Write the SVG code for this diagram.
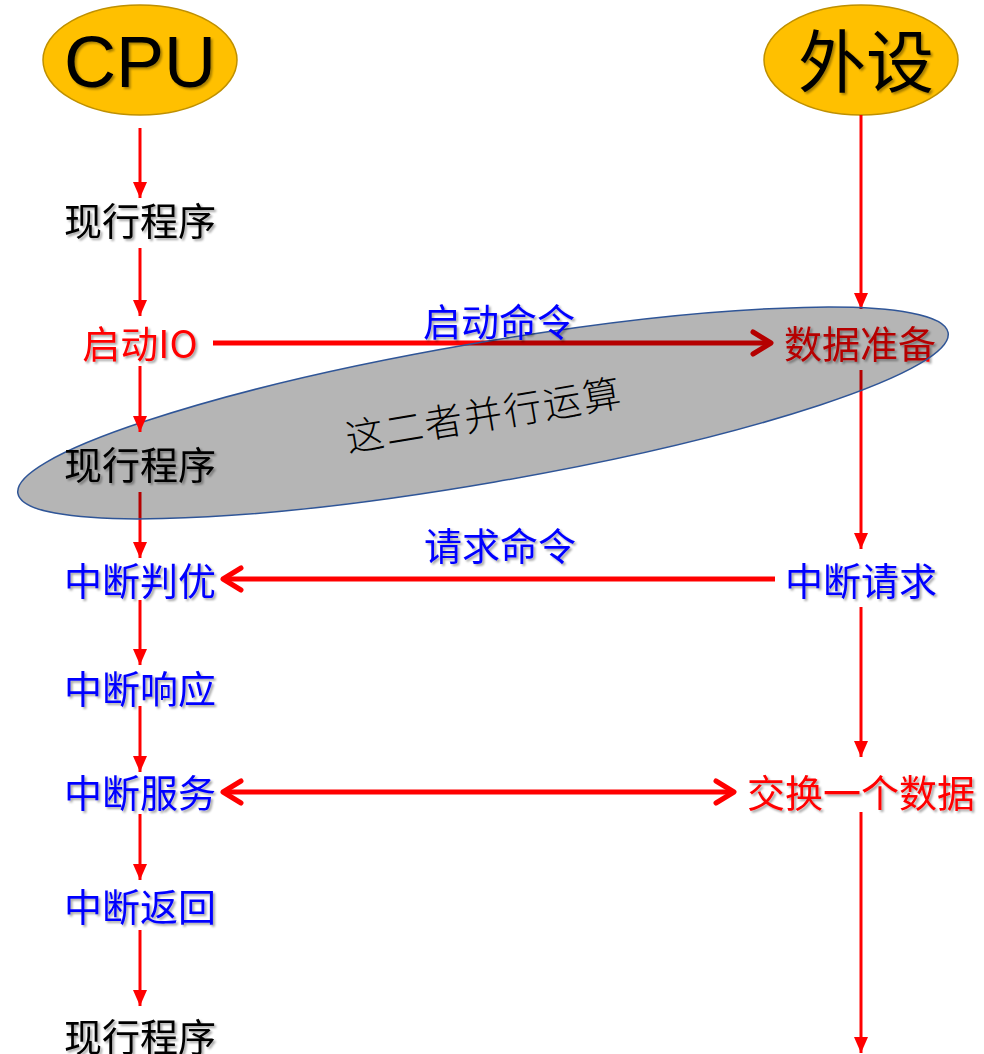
<svg xmlns="http://www.w3.org/2000/svg" width="984" height="1054" viewBox="0 0 984 1054">
<style>
.t{font-family:"Noto Sans CJK SC","Liberation Sans",sans-serif;font-size:38px;text-anchor:middle;filter:url(#sh)}
.blk{fill:#000}
.red{fill:#FF0000}
.blu{fill:#0000FF}
.head{fill:#FFC000;stroke:#BF9000;stroke-width:1.5}
.v{stroke:#FF0000;stroke-width:3;fill:none;marker-end:url(#tri)}
.h{stroke:#FF0000;stroke-width:5;fill:none}
</style>
<defs>
<filter id="sh" x="-10%" y="-20%" width="130%" height="150%">
<feDropShadow dx="2" dy="2" stdDeviation="1.2" flood-color="#000" flood-opacity="0.35"/>
</filter>
<marker id="tri" markerUnits="userSpaceOnUse" markerWidth="16" markerHeight="14" viewBox="0 0 16 14" refX="16" refY="7" orient="auto">
<path d="M0,0 L16,7 L0,14 z" fill="#FF0000"/>
</marker>
<marker id="chev" markerUnits="userSpaceOnUse" markerWidth="24" markerHeight="28" viewBox="0 0 24 28" refX="21" refY="14" orient="auto-start-reverse">
<path d="M3,3 L21,14 L3,25" fill="none" stroke="#FF0000" stroke-width="5" stroke-linecap="round" stroke-linejoin="round"/>
</marker>
</defs>

<g id="cpu">
<ellipse class="head" cx="140" cy="60" rx="97" ry="55"/>
<text x="140" y="87" style="font-family:'Liberation Sans',sans-serif;font-size:72px;text-anchor:middle;filter:url(#sh)" fill="#000">CPU</text>
</g>
<g id="peripheral">
<ellipse class="head" cx="861" cy="60" rx="97" ry="55"/>
<text x="866" y="87" style="font-family:'Noto Sans CJK SC',sans-serif;font-size:68px;text-anchor:middle;filter:url(#sh)" fill="#000">外设</text>
</g>

<g id="program1"><text class="t blk" x="140" y="235">现行程序</text></g>
<g id="start-io"><text class="t red" x="140" y="358">启动IO</text></g>
<g id="judge"><text class="t blu" x="140" y="595">中断判优</text></g>
<g id="respond"><text class="t blu" x="140" y="703">中断响应</text></g>
<g id="service"><text class="t blu" x="140" y="807">中断服务</text></g>
<g id="return"><text class="t blu" x="140" y="921">中断返回</text></g>
<g id="program3"><text class="t blk" x="140" y="1051">现行程序</text></g>
<g id="prepare"><text class="t red" x="860" y="358">数据准备</text></g>
<g id="request"><text class="t blu" x="861" y="595">中断请求</text></g>
<g id="exchange"><text class="t red" x="861" y="807">交换一个数据</text></g>

<g id="connectors">
<line class="v" x1="140" y1="128" x2="140" y2="198"/>
<line class="v" x1="140" y1="248" x2="140" y2="316"/>
<line class="v" x1="140" y1="492" x2="140" y2="558"/>
<line class="v" x1="140" y1="600" x2="140" y2="665"/>
<line class="v" x1="140" y1="706" x2="140" y2="772"/>
<line class="v" x1="140" y1="814" x2="140" y2="880"/>
<line class="v" x1="140" y1="930" x2="140" y2="1006"/>
<line class="v" x1="861" y1="115" x2="861" y2="309"/>
<line class="v" x1="861" y1="370" x2="861" y2="549"/>
<line class="v" x1="861" y1="607" x2="861" y2="757"/>
<line class="v" x1="861" y1="812" x2="861" y2="1053"/>
<line class="h" x1="213" y1="343" x2="771" y2="343" marker-end="url(#chev)"/>
<line class="h" x1="775" y1="579" x2="223" y2="579" marker-end="url(#chev)"/>
<line class="h" x1="223" y1="792" x2="734" y2="792" marker-start="url(#chev)" marker-end="url(#chev)"/>
</g>

<g id="parallel-ellipse">
<ellipse cx="483" cy="413" rx="472" ry="70" transform="rotate(-9.8 483 413)" fill="#000" fill-opacity="0.29" stroke="#2F5597" stroke-width="1.5"/>
</g>

<g id="connectors-over">
<line class="v" x1="140" y1="366" x2="140" y2="432"/>
</g>

<g id="program2"><text class="t blk" x="140" y="479">现行程序</text></g>
<g id="label-start"><text class="t blu" x="499" y="336">启动命令</text></g>
<g id="label-request"><text class="t blu" x="500" y="560">请求命令</text></g>
<g id="label-parallel"><text x="484" y="429" transform="rotate(-9.5 484 415)" style="font-family:'Noto Sans CJK SC',sans-serif;font-size:38px;font-weight:300;text-anchor:middle;letter-spacing:2px" fill="#000">这二者并行运算</text></g>
</svg>
